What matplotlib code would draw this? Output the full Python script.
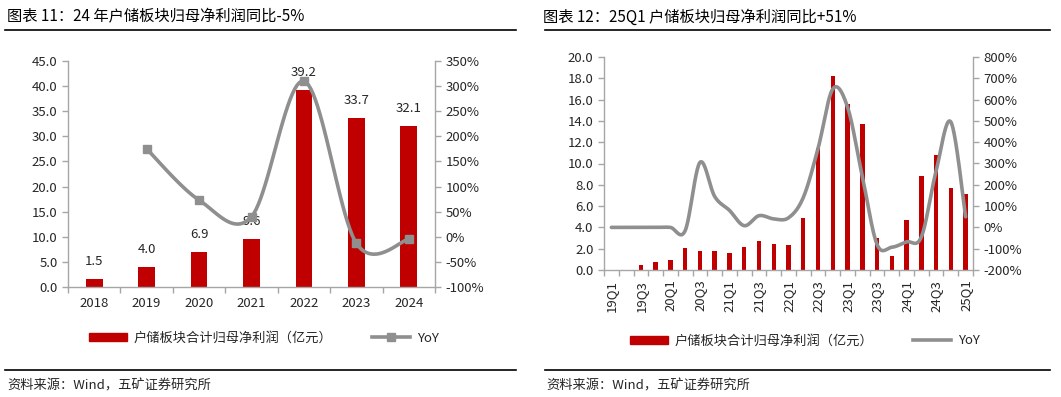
import numpy as np
import matplotlib
matplotlib.use("Agg")
import matplotlib.pyplot as plt
from matplotlib.patches import Patch
from matplotlib.lines import Line2D

plt.rcParams['font.family'] = ['Noto Sans CJK SC', 'DejaVu Sans']
plt.rcParams['axes.unicode_minus'] = False

# 图表 11: annual
years = ['2018', '2019', '2020', '2021', '2022', '2023', '2024']
profit_y = [1.5, 4.0, 6.9, 9.6, 39.2, 33.7, 32.1]
yoy_y = [None, 175, 73, 40, 310, -13, -5]

# 图表 12: quarterly
quarters = ['19Q1', '19Q2', '19Q3', '19Q4', '20Q1', '20Q2', '20Q3', '20Q4',
            '21Q1', '21Q2', '21Q3', '21Q4', '22Q1', '22Q2', '22Q3', '22Q4',
            '23Q1', '23Q2', '23Q3', '23Q4', '24Q1', '24Q2', '24Q3', '24Q4', '25Q1']
profit_q = [0, 0, 0.47, 0.76, 0.93, 2.05, 1.8, 1.8, 1.64, 2.17, 2.75, 2.48, 2.35,
            4.87, 11.5, 18.25, 15.6, 13.75, 3.05, 1.33, 4.7, 8.83, 10.8, 7.7, 7.1]
yoy_q = [0, 0, 0, 0, 0, -15, 305, 145, 80, 8, 55, 40, 45, 140, 370, 650, 565,
         240, -80, -93, -68, -45, 265, 495, 50]

bar_label = '户储板块合计归母净利润（亿元）'
RED = '#C00000'
GREY = '#8F8F8F'
SPINE = '#A6A6A6'
TXT = '#262626'


def smooth(x, y, n=24):
    # bezier smoothing similar to excel's smoothed line
    pts = np.column_stack([x, y]).astype(float)
    P = np.vstack([pts[0], pts, pts[-1]])
    out = []
    t = np.linspace(0, 1, n)[:, None]
    for i in range(len(pts) - 1):
        p0, p1, p2, p3 = P[i], P[i + 1], P[i + 2], P[i + 3]
        c1 = p1 + (p2 - p0) / 6
        c2 = p2 - (p3 - p1) / 6
        seg = (1 - t) ** 3 * p1 + 3 * (1 - t) ** 2 * t * c1 + 3 * (1 - t) * t ** 2 * c2 + t ** 3 * p2
        out.append(seg if i == 0 else seg[1:])
    s = np.vstack(out)
    return s[:, 0], s[:, 1]


def style_axes(ax, ax2, n):
    for a in (ax, ax2):
        a.spines['top'].set_visible(False)
        for s in ('left', 'right', 'bottom'):
            a.spines[s].set_color(SPINE)
            a.spines[s].set_linewidth(1.0)
        a.tick_params(axis='y', colors=SPINE, labelcolor=TXT, labelsize=9.5, length=4, width=1, direction='out')
    ax.spines['right'].set_visible(False)
    ax2.spines['left'].set_visible(False)
    ax2.spines['bottom'].set_visible(False)
    ax.set_xlim(-0.5, n - 0.5)
    ax.set_xticks(np.arange(-0.5, n, 1.0), minor=True)
    ax.tick_params(axis='x', which='minor', length=4, width=1, color=SPINE, direction='out')
    ax.tick_params(axis='x', which='major', length=0, labelcolor=TXT, labelsize=9.5)


fig = plt.figure(figsize=(10.61, 3.97), dpi=100)

# ---------- left chart ----------
ax = fig.add_axes([68 / 1061, 1 - 287 / 397, 367 / 1061, 226 / 397])
ax2 = ax.twinx()
xl = np.arange(len(years))
ax.bar(xl, profit_y, width=0.32, color=RED, zorder=2)
for xi, v in zip(xl, profit_y):
    ax.annotate(f'{v:.1f}', (xi, v), xytext=(0, 8), textcoords='offset points',
                ha='center', va='bottom', fontsize=9.5, color=TXT)
ax.set_ylim(0, 45)
ax.set_yticks(np.arange(0, 45.1, 5))
ax.set_yticklabels([f'{v:.1f}' for v in np.arange(0, 45.1, 5)])
ax.set_xticks(xl)
ax.set_xticklabels(years)
ax.tick_params(axis='x', pad=7)

xs = xl[1:]
ys = [v for v in yoy_y if v is not None]
sx, sy = smooth(xs, ys)
ax2.plot(sx, sy, color=GREY, lw=2.6, solid_capstyle='round')
ax2.plot(xs, ys, ls='none', marker='s', ms=6, color=GREY)
ax2.set_ylim(-100, 350)
ax2.set_yticks(np.arange(-100, 351, 50))
ax2.set_yticklabels([f'{v}%' for v in range(-100, 351, 50)])
style_axes(ax, ax2, len(years))

fig.legend([Patch(color=RED), Line2D([], [], color=GREY, lw=2.6, marker='s', ms=6)],
           [bar_label, 'YoY'], loc='center', bbox_to_anchor=(264 / 1061, 1 - 338 / 397),
           ncol=2, frameon=False, fontsize=9.5, handlelength=2.9, handleheight=0.6,
           handletextpad=0.5, columnspacing=3.0, labelcolor=TXT)

# ---------- right chart ----------
bx = fig.add_axes([604 / 1061, 1 - 270 / 397, 369 / 1061, 213 / 397])
bx2 = bx.twinx()
xq = np.arange(len(quarters))
bx.bar(xq, profit_q, width=0.3, color=RED, zorder=2)
bx.set_ylim(0, 20)
bx.set_yticks(np.arange(0, 20.1, 2))
bx.set_yticklabels([f'{v:.1f}' for v in np.arange(0, 20.1, 2)])
bx.set_xticks(xq[::2])
bx.set_xticklabels(quarters[::2], rotation=90)
bx.tick_params(axis='x', pad=7)

sx, sy = smooth(xq, yoy_q)
bx2.plot(sx, sy, color=GREY, lw=2.6, solid_capstyle='round')
bx2.set_ylim(-200, 800)
bx2.set_yticks(np.arange(-200, 801, 100))
bx2.set_yticklabels([f'{v}%' for v in range(-200, 801, 100)])
style_axes(bx, bx2, len(quarters))

fig.legend([Patch(color=RED), Line2D([], [], color=GREY, lw=2.6)],
           [bar_label, 'YoY'], loc='center', bbox_to_anchor=(805 / 1061, 1 - 341 / 397),
           ncol=2, frameon=False, fontsize=9.5, handlelength=2.9, handleheight=0.6,
           handletextpad=0.5, columnspacing=3.0, labelcolor=TXT)

# ---------- titles, rules, source ----------
fig.text(7 / 1061, 1 - 17 / 397, '图表 11：24 年户储板块归母净利润同比-5%', fontsize=11,
         va='center', ha='left', color='black')
fig.text(543 / 1061, 1 - 17 / 397, '图表 12：25Q1 户储板块归母净利润同比+51%', fontsize=11,
         va='center', ha='left', color='black')
for x0, x1 in ((5, 516), (545, 1050)):
    for yy in (30, 370):
        fig.add_artist(Line2D([x0 / 1061, x1 / 1061], [1 - yy / 397] * 2, color='black', lw=1.2))
fig.text(7 / 1061, 1 - 386 / 397, '资料来源：Wind，五矿证券研究所', fontsize=9.5, va='center', color=TXT)
fig.text(546 / 1061, 1 - 386 / 397, '资料来源：Wind，五矿证券研究所', fontsize=9.5, va='center', color=TXT)

fig.savefig('out.png', dpi=100)
